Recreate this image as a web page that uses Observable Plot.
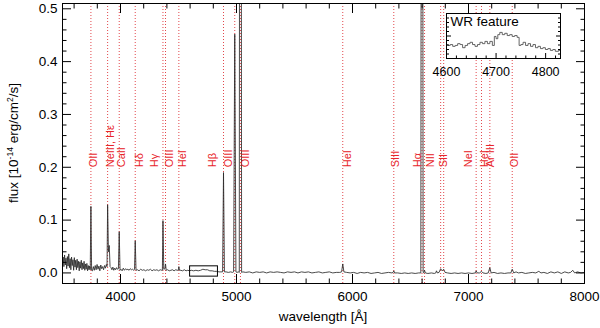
<!DOCTYPE html>
<html><head><meta charset="utf-8">
<script src="https://cdn.jsdelivr.net/npm/d3@7"></script>
<script src="https://cdn.jsdelivr.net/npm/@observablehq/plot@0.6"></script>
<style>
body{margin:0;background:#fff;}
#wrap{position:relative;width:600px;height:328px;}
#wrap svg{overflow:visible;display:block;}
#inset{position:absolute;left:430px;top:13px;}
#main{position:absolute;left:0;top:0;}
</style></head><body><div id="wrap"><div id="main"></div><div id="inset"></div></div>
<script>
// ---- spectrum (observed wavelength in Å, flux in 1e-14 erg/cm2/s) ----
const wavelength = [3500,3506,3512,3518,3524,3530,3536,3542,3548,3554,3560,3566,3572,3578,3584,3590,3596,3602,3608,3614,3620,3626,3632,3638,3644,3650,3656,3662,3668,3674,3680,3686,3692,3698,3704,3710,3716,3722,3728,3734,
3739,3745,3751,3758,3766,3774,3782,3790,3798,3806,3814,3822,3830,3838,3846,3854,3862,3870,3878,3884,
3889,3896,3903,3910,3918,3926,3934,3942,3950,3958,3966,3974,3982,
3989,3996,4004,4014,4024,4034,4044,4054,4064,4074,4084,4094,4104,4114,4121,
4127,4134,4146,4160,4174,4188,4202,4216,4230,4244,4258,4272,4286,4300,4314,4328,4342,4356,4361,
4366,4373,4383,4388,4394,4406,4420,4434,4448,4462,4476,4490,4498,4503,4509,
4520,4535,4550,4565,4580,4595,4610,4630,4650,4670,4690,4710,4730,4750,4770,4790,4810,4830,4850,4866,4880,
4888,4896,4910,4930,4950,4965,4975,4985,4995,5005,5015,5024,5034,5044,
5055,5080,5110,5140,5170,5200,5230,5260,5290,5320,5350,5380,5410,5440,5470,5500,5530,5560,5590,5620,5650,5680,5710,5740,5770,5800,5830,5860,5890,5906,
5916,5926,5950,5980,6010,6040,6070,6100,6130,6160,6190,6220,6250,6280,6310,6340,6350,
6356,6364,6390,6420,6450,6480,6510,6540,6570,6589,
6599,6609,6614,6621,6628,6650,6680,6705,6718,6724,6732,6746,6760,6773,6786,6798,6820,6850,6880,6910,6940,6970,7000,7030,7058,7066,7075,7095,7112,7125,7150,7170,7184,7195,7220,7250,7280,7310,7340,7365,7377,7390,7410,7430,7460,7490,7520,7550,7580,7606,7625,7650,7680,7710,7740,7770,7800,7830,7860,7880,7899,7915,7940,7970,8000];
const flux = [0.020,0.030,0.012,0.034,0.015,0.028,0.008,0.031,0.013,0.036,0.010,0.027,0.006,0.030,0.014,0.025,0.005,0.029,0.011,0.024,0.006,0.026,0.010,0.022,0.004,0.021,0.009,0.024,0.006,0.019,0.008,0.022,0.005,0.017,0.007,0.018,0.004,0.014,0.006,0.013,
0.006,0.126,0.005,0.004,0.012,0.005,0.014,0.006,0.016,0.007,0.013,0.004,0.015,0.008,0.012,0.006,0.014,0.009,0.016,0.012,
0.129,0.040,0.052,0.012,0.010,0.006,0.011,0.005,0.009,0.006,0.010,0.007,0.008,
0.078,0.005,0.007,0.004,0.009,0.005,0.008,0.006,0.007,0.005,0.008,0.006,0.007,0.005,0.007,
0.061,0.005,0.006,0.004,0.007,0.005,0.006,0.004,0.006,0.005,0.007,0.004,0.006,0.005,0.006,0.004,0.006,0.005,0.005,
0.099,0.007,0.008,0.017,0.005,0.006,0.004,0.005,0.006,0.004,0.006,0.005,0.005,0.012,0.005,
0.005,0.004,0.006,0.004,0.005,0.004,0.005,0.004,0.005,0.004,0.005,0.007,0.006,0.006,0.004,0.004,0.003,0.003,0.002,0.002,0.002,
0.190,0.002,0.002,0.001,0.002,0.001,0.002,0.452,0.002,0.001,0.002,0.001,3.0,0.001,
0.002,0.001,0.002,0.000,0.002,0.001,0.002,0.000,0.002,0.001,0.002,0.001,0.000,0.002,0.001,0.002,0.000,0.002,0.001,0.002,0.000,0.001,0.002,0.000,0.001,0.002,0.000,0.001,0.001,0.002,
0.017,0.002,0.001,0.000,0.001,-0.001,0.001,0.000,0.001,-0.001,0.000,0.001,-0.001,0.000,0.001,0.000,0.001,
0.004,0.000,0.000,-0.001,0.000,-0.001,0.000,-0.001,0.000,0.000,
2.5,0.001,0.000,0.005,0.000,-0.001,0.000,-0.001,0.000,0.004,0.000,0.001,0.008,0.004,0.007,0.001,0.000,-0.001,0.000,-0.001,0.000,-0.001,0.000,-0.001,0.000,0.004,0.000,0.000,0.003,0.000,-0.001,0.000,0.010,0.000,0.001,-0.001,0.000,-0.001,0.000,0.000,0.007,0.000,0.002,0.000,0.001,-0.001,0.000,0.001,0.000,0.003,0.000,0.001,-0.001,0.002,0.000,0.002,-0.001,0.002,0.000,0.001,0.005,0.000,0.002,0.000,0.001];

// ---- identified emission lines ----
const lineWavelength = [3745,3889,3989,4127,4366,4388,4503,4888,4985,5034,5916,6356,6599,6621,6760,6786,7066,7112,7184,7377];
const labelText = ["OII","NeIII, Hε","CaII","Hδ","Hγ","OIII","HeI","Hβ","OIII","OIII","HeI","SIII","Hα","NII","SII","NeI","HeI","Ar III","OII"];
const labelWavelength = [3767,3914,4009,4164,4296,4422,4537,4791,4934,5078,5954,6371,6558,6672,6782,6997,7141,7190,7397];

// ---- WR feature (inset) ----
const wrWavelength = [4600,4605,4610,4615,4620,4625,4630,4635,4640,4645,4650,4655,4660,4665,4670,4675,4680,4685,4690,4695,4698,4702,4705,4710,4715,4720,4725,4730,4735,4740,4745,4748,4752,4757,4762,4767,4772,4777,4782,4787,4792,4797,4802,4807,4812,4817,4822,4830];
const wrFlux = [0.0031,0.0029,0.0031,0.0027,0.0029,0.0033,0.0031,0.0024,0.0029,0.0033,0.0036,0.0031,0.0027,0.0031,0.0036,0.0033,0.0038,0.0033,0.0038,0.0029,0.0049,0.0044,0.0053,0.0058,0.0053,0.0056,0.0051,0.0053,0.0049,0.0051,0.0047,0.0029,0.0031,0.0036,0.0029,0.0033,0.0027,0.0031,0.0024,0.0027,0.0022,0.0024,0.0020,0.0022,0.0018,0.0020,0.0016,0.0018];
const wrBoxWavelength = [4600, 4840];
const wrBoxFlux = [-0.007, 0.0125];

// ---- axis ticks ----
const xTickLabels = [4000,5000,6000,7000,8000];
const xMinorTicks = [3600,3800,4200,4400,4600,4800,5200,5400,5600,5800,6200,6400,6600,6800,7200,7400,7600,7800];
const yTickLabels = [0.0,0.1,0.2,0.3,0.4,0.5];
const yMinorTicks = [0.02,0.04,0.06,0.08,0.12,0.14,0.16,0.18,0.22,0.24,0.26,0.28,0.32,0.34,0.36,0.38,0.42,0.44,0.46,0.48];
const insetXTickLabels = [4600,4700,4800];
const insetXMinor = [4620,4640,4660,4680,4720,4740,4760,4780,4820];
const insetYMinor = [0.001,0.002,0.003,0.004,0.006,0.007,0.008,0.009];
const insetYMajor = [0.005];

const red = "#e8252b";
const redLine = "#e2474c";
const font = "'Liberation Sans', Arial, Helvetica, sans-serif";
const spectrum = wavelength.map((w, i) => ({w, f: flux[i]}));
const lines = lineWavelength.map(w => ({w}));
const labels = labelText.map((t, i) => ({t, w: labelWavelength[i]}));
const wr = wrWavelength.map((w, i) => ({w, f: wrFlux[i]}));
const fmtInt = d => String(d);
const blank = () => "";

const main = Plot.plot({
  width: 600, height: 328,
  marginLeft: 62, marginRight: 16, marginTop: 3, marginBottom: 45,
  style: {fontFamily: font, fontSize: "13.5px", background: "white", color: "black"},
  x: {domain: [3500, 8000]},
  y: {domain: [-0.02, 0.51]},
  marks: [
    Plot.ruleX(lines, {x: "w", stroke: redLine, strokeDasharray: "1,2", strokeWidth: 1}),
    Plot.line(spectrum, {x: "w", y: "f", stroke: "#2a2a2a", strokeWidth: 0.85, clip: true}),
    Plot.text(labels, {x: "w", y: 0.2, text: "t", rotate: -90, textAnchor: "start", lineAnchor: "middle", fill: red, fontSize: 11}),
    Plot.rect([{x1: wrBoxWavelength[0], x2: wrBoxWavelength[1], y1: wrBoxFlux[0], y2: wrBoxFlux[1]}], {x1: "x1", x2: "x2", y1: "y1", y2: "y2", fill: "none", stroke: "black", strokeWidth: 1}),
    Plot.frame({stroke: "black"}),
    Plot.axisX(xTickLabels, {anchor: "bottom", tickSize: -9, tickPadding: 17, tickFormat: fmtInt, label: null, fontSize: 13.5}),
    Plot.axisX(xMinorTicks, {anchor: "bottom", tickSize: -4.5, tickFormat: blank, label: null}),
    Plot.axisX(xTickLabels, {anchor: "top", tickSize: -9, tickFormat: blank, label: null}),
    Plot.axisX(xMinorTicks, {anchor: "top", tickSize: -4.5, tickFormat: blank, label: null}),
    Plot.axisY(yTickLabels, {anchor: "left", tickSize: -9, tickPadding: 14, tickFormat: d3.format(".1f"), label: null, fontSize: 13.5}),
    Plot.axisY(yMinorTicks, {anchor: "left", tickSize: -4.5, tickFormat: blank, label: null}),
    Plot.axisY(yTickLabels, {anchor: "right", tickSize: -9, tickFormat: blank, label: null}),
    Plot.axisY(yMinorTicks, {anchor: "right", tickSize: -4.5, tickFormat: blank, label: null})
  ]
});

const svg = d3.select(main);
const yl = svg.append("text")
  .attr("transform", "translate(18,143) rotate(-90)")
  .attr("text-anchor", "middle")
  .attr("font-family", font).attr("font-size", 13.5).attr("fill", "black");
yl.append("tspan").text("flux [10");
yl.append("tspan").attr("baseline-shift", "super").attr("font-size", 8.5).text("-14");
yl.append("tspan").text(" erg/cm");
yl.append("tspan").attr("baseline-shift", "super").attr("font-size", 8.5).text("2");
yl.append("tspan").text("/s]");
svg.append("text")
  .attr("x", 323).attr("y", 321)
  .attr("text-anchor", "middle")
  .attr("font-family", font).attr("font-size", 13.5).attr("fill", "black")
  .text("wavelength [Å]");
document.getElementById("main").appendChild(main);

const inset = Plot.plot({
  width: 146, height: 70,
  marginLeft: 16, marginRight: 16, marginTop: 0, marginBottom: 25,
  style: {fontFamily: font, fontSize: "12.5px", background: "transparent", color: "black"},
  x: {domain: [4600, 4830]},
  y: {domain: [0, 0.01]},
  marks: [
    Plot.frame({fill: "white", stroke: "none"}),
    Plot.line(wr, {x: "w", y: "f", curve: "step", stroke: "#555", strokeWidth: 0.9}),
    Plot.text(["WR feature"], {text: d => d, frameAnchor: "top-left", dx: 4, dy: 3, textAnchor: "start", lineAnchor: "top", fontSize: 13.5, fill: "black"}),
    Plot.axisX(insetXTickLabels, {anchor: "bottom", tickSize: -5, tickPadding: 14, tickFormat: fmtInt, label: null, fontSize: 12.5}),
    Plot.axisX(insetXMinor, {anchor: "bottom", tickSize: -2.5, tickFormat: blank, label: null}),
    Plot.axisY(insetYMajor, {anchor: "left", tickSize: -5, tickFormat: blank, label: null}),
    Plot.axisY(insetYMinor, {anchor: "left", tickSize: -3, tickFormat: blank, label: null}),
    Plot.axisY(insetYMajor, {anchor: "right", tickSize: -5, tickFormat: blank, label: null}),
    Plot.axisY(insetYMinor, {anchor: "right", tickSize: -3, tickFormat: blank, label: null}),
    Plot.frame({stroke: "black"})
  ]
});
document.getElementById("inset").appendChild(inset);
</script></body></html>
